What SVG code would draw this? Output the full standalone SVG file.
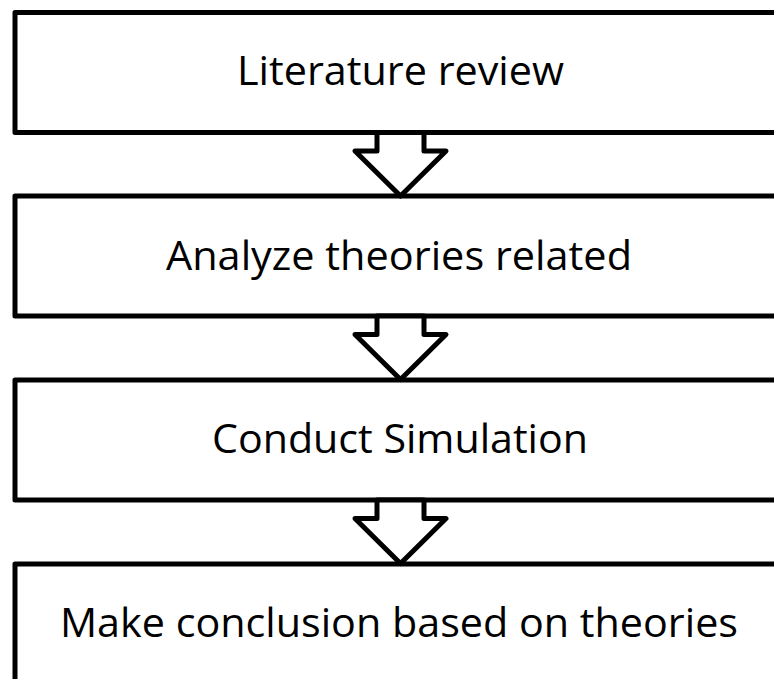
<svg xmlns="http://www.w3.org/2000/svg" width="774" height="679" viewBox="0 0 774 679">
  <style>
    .box { fill: #ffffff; stroke: #000000; stroke-width: 5; stroke-linejoin: round; }
    .arrow { fill: #ffffff; stroke: #000000; stroke-width: 5; stroke-linejoin: round; }
    .label { font-family: "Open Sans", "Noto Sans", "Liberation Sans", sans-serif; font-size: 41px; fill: #000000; text-anchor: middle; }
  </style>
  <defs>
    <polygon id="blockArrow" points="377,0 377,18.5 355,18.5 400.5,63.5 446,18.5 424,18.5 424,0"/>
  </defs>
  <rect x="0" y="0" width="774" height="679" fill="#ffffff"/>
  <g id="node1">
    <rect class="box" x="15" y="12.5" width="790" height="120"/>
    <text class="label" x="400.5" y="85" textLength="327" lengthAdjust="spacingAndGlyphs">Literature review</text>
  </g>
  <g id="node2">
    <rect class="box" x="15" y="196" width="790" height="120"/>
    <text class="label" x="399" y="270" textLength="466" lengthAdjust="spacingAndGlyphs">Analyze theories related</text>
  </g>
  <g id="node3">
    <rect class="box" x="15" y="380" width="790" height="120"/>
    <text class="label" x="400" y="453" textLength="376" lengthAdjust="spacingAndGlyphs">Conduct Simulation</text>
  </g>
  <g id="node4">
    <rect class="box" x="15" y="564" width="790" height="130"/>
    <text class="label" x="399" y="637" textLength="678" lengthAdjust="spacingAndGlyphs">Make conclusion based on theories</text>
  </g>
  <g id="connectors">
    <use href="#blockArrow" class="arrow" transform="translate(0,132.5)"/>
    <use href="#blockArrow" class="arrow" transform="translate(0,316)"/>
    <use href="#blockArrow" class="arrow" transform="translate(0,500)"/>
  </g>
</svg>
